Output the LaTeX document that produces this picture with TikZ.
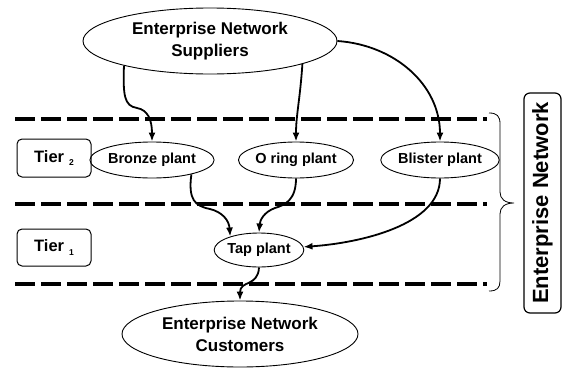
\documentclass[tikz,border=0pt]{standalone}
\usepackage{fontspec}
\setmainfont{Liberation Sans}
\usetikzlibrary{shapes.geometric,arrows.meta}
\begin{document}
\begin{tikzpicture}[x=1pt,y=-1pt,
  bigell/.style={ellipse,draw,line width=0.9pt,inner sep=0pt,minimum width=254pt,minimum height=66pt,align=center,font=\fontsize{17}{22}\selectfont\bfseries},
  plant/.style={ellipse,draw,line width=0.9pt,inner sep=0pt,minimum width=96pt,minimum height=36pt,font=\fontsize{14.5}{16}\selectfont\bfseries},
  tierbox/.style={draw,rounded corners=5pt,line width=1pt,minimum width=74pt,minimum height=38pt,inner sep=0pt,font=\fontsize{16.5}{18}\selectfont\bfseries},
  arr/.style={line width=1.8pt,-{Latex[length=9pt,width=7pt]}},
  tierline/.style={line width=4.5pt,dash pattern=on 20pt off 6pt}]
\useasboundingbox (0,0) rectangle (562,367);
% dashed tier boundaries
\draw[tierline] (15,119) -- (487,119);
\draw[tierline] (15,204) -- (487,204);
\draw[tierline] (15,284) -- (487,284);
% brace
\draw[line width=0.8pt] (489,113) .. controls (497,113) and (500,116) .. (500,124) -- (500,192)
  .. controls (500,199) and (505,203) .. (514,203)
  .. controls (505,203) and (500,207) .. (500,214) -- (500,281)
  .. controls (500,288) and (497,291) .. (489,291);
% nodes
\node[bigell] (sup) at (210,41) {Enterprise Network\\Suppliers};
\node[bigell,minimum width=236pt] (cust) at (240,334) {Enterprise Network\\Customers};
\node[plant] (bronze) at (152,160) {Bronze plant};
\node[plant] (oring) at (296,160) {O ring plant};
\node[plant,minimum width=90pt] (blister) at (440,160) {Blister plant};
\node[plant,minimum width=86pt,minimum height=34pt] (tap) at (259,250) {Tap plant};
\node[tierbox] (t2) at (54,158) {Tier\hspace{5pt}\raisebox{-0.45ex}{\fontsize{8.5}{8}\selectfont 2}};
\node[tierbox,minimum height=37pt] (t1) at (54,247.5) {Tier\hspace{5pt}\raisebox{-0.45ex}{\fontsize{8.5}{8}\selectfont 1}};
\node[draw,rounded corners=6pt,line width=1.2pt,rotate=90,minimum width=220pt,minimum height=37pt,inner sep=0pt,font=\fontsize{22}{24}\selectfont\bfseries] (en) at (542.5,203) {Enterprise Network};
% connectors
\draw[arr] (sup.196) .. controls (123,95) and (124,106) .. (137,108) .. controls (148,110) and (152,120) .. (bronze.north);
\draw[arr] (sup.346) .. controls (300,100) and (296,115) .. (oring.north);
\draw[arr] (sup.east) .. controls (395,45) and (440,85) .. (blister.north);
\draw[arr] (bronze.340) .. controls (188,200) and (195,206) .. (210,209) .. controls (222,212) and (229,220) .. (tap.155);
\draw[arr] (oring.south) .. controls (296,200) and (285,205) .. (275,208) .. controls (264,212) and (260,220) .. (tap.north);
\draw[arr] (blister.south) .. controls (440,225) and (360,243) .. (tap.4);
\draw[arr] (tap.south) .. controls (258,287) and (240,280) .. (cust.north);
\end{tikzpicture}
\end{document}
